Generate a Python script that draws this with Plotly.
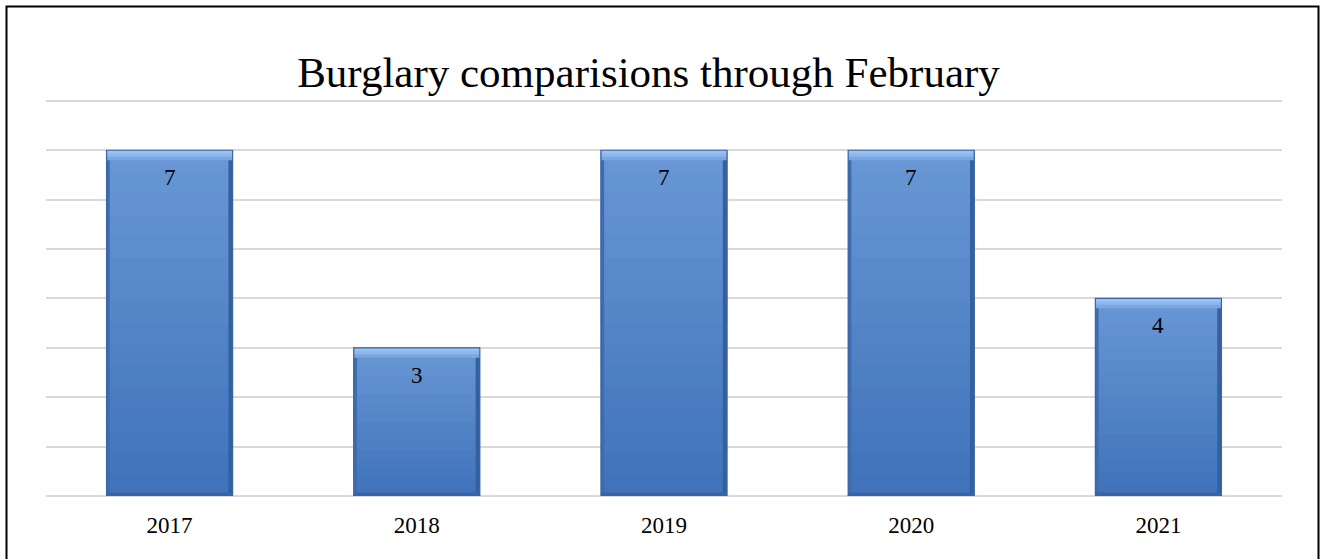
import plotly.graph_objects as go

# Burglary counts through February, by year
years = ["2017", "2018", "2019", "2020", "2021"]
burglaries = [7, 3, 7, 7, 4]

W, H = 1322, 559
M_L, M_R, M_T, M_B = 46, 40, 91, 63
Y_MAX = 8.2
BAR_W = 0.51
N_SEG = 16  # layers used to shade each bar from dark (bottom) to light (top)

dark = (64, 115, 186)
light = (104, 150, 213)


def mix(a, b, t):
    return "rgb(%d,%d,%d)" % tuple(round(a[i] + (b[i] - a[i]) * t) for i in range(3))


def bar_layer(y, base=None, color="black", width=BAR_W, offset=None):
    return go.Bar(
        x=years, y=y, base=base, width=width, offset=offset,
        marker=dict(color=color, line=dict(width=0)),
        hoverinfo="skip", showlegend=False,
    )


fig = go.Figure()

# vertical shading: each layer runs from a fraction of the value up to the top
for k in range(N_SEG):
    fig.add_trace(bar_layer(
        y=[v * (N_SEG - k) / N_SEG for v in burglaries],
        base=[v * k / N_SEG for v in burglaries],
        color=mix(dark, light, k / (N_SEG - 1)),
    ))

# darker side and bottom edges
fig.add_trace(bar_layer(burglaries, color="rgb(62,108,176)", width=0.013, offset=-BAR_W / 2))
fig.add_trace(bar_layer(burglaries, color="rgb(52,96,160)", width=0.017, offset=BAR_W / 2 - 0.017))
fig.add_trace(bar_layer([0.07] * len(burglaries), color="rgb(54,100,166)"))

# light bevel along the top edge
fig.add_trace(bar_layer([0.2] * len(burglaries), base=[v - 0.2 for v in burglaries],
                        color="rgb(122,166,226)"))
fig.add_trace(bar_layer([0.13] * len(burglaries), base=[v - 0.13 for v in burglaries],
                        color="rgb(142,183,235)"))
fig.add_trace(bar_layer([0.06] * len(burglaries), base=[v - 0.06 for v in burglaries],
                        color="rgb(158,195,240)"))

# outline of the full bar
fig.add_trace(go.Bar(
    x=years,
    y=burglaries,
    width=BAR_W,
    marker=dict(color="rgba(0,0,0,0)", line=dict(color="rgb(60,102,162)", width=1.2)),
    name="Burglaries",
    showlegend=False,
))

# value labels just inside the top of each bar (category axis -> index position)
for i, v in enumerate(burglaries):
    fig.add_annotation(
        x=i, y=v, text=str(v), showarrow=False,
        yanchor="top", yshift=-13,
        font=dict(family="Liberation Serif", size=23, color="black"),
    )

# chart frame
plot_w = W - M_L - M_R
plot_h = H - M_T - M_B
fig.add_shape(
    type="rect", xref="paper", yref="paper",
    x0=(6.5 - M_L) / plot_w, x1=(1318.5 - M_L) / plot_w,
    y0=-(M_B + 5) / plot_h, y1=1 + (M_T - 6.5) / plot_h,
    line=dict(color="black", width=2), fillcolor="rgba(0,0,0,0)", layer="below",
)

fig.update_layout(
    width=W, height=H,
    margin=dict(l=M_L, r=M_R, t=M_T, b=M_B),
    paper_bgcolor="white", plot_bgcolor="white",
    barmode="overlay",
    title=dict(
        text="Burglary comparisions through February",
        xref="paper", x=(648.5 - M_L) / plot_w, xanchor="center",
        y=1 - 72 / H, yanchor="middle",
        font=dict(family="Liberation Serif", size=43, color="black"),
    ),
    xaxis=dict(
        type="category", range=[-0.5, len(years) - 0.5],
        showgrid=False, showline=False,
        ticks="outside", ticklen=8, tickcolor="rgba(0,0,0,0)",
        tickfont=dict(family="Liberation Serif", size=23, color="black"),
    ),
    yaxis=dict(
        range=[0, Y_MAX], tickvals=list(range(0, 9)), showticklabels=False,
        showgrid=True, gridcolor="#d9d9d9", gridwidth=1.5,
        zeroline=True, zerolinecolor="#d9d9d9", zerolinewidth=1.5,
    ),
    font=dict(family="Liberation Serif"),
)

fig.write_html("out.html")
